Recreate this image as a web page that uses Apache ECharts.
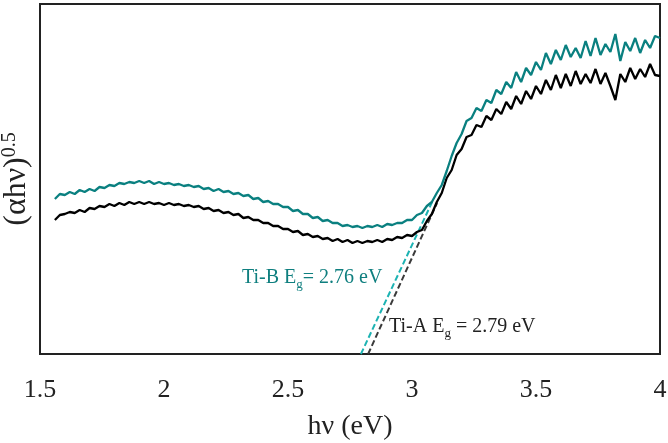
<!DOCTYPE html>
<html><head><meta charset="utf-8">
<script src="https://cdn.jsdelivr.net/npm/echarts@6/dist/echarts.min.js"></script>
<style>html,body{margin:0;padding:0;background:#fff}#c{width:668px;height:443px}</style>
</head><body><div id="c"></div>
<script>
// photon energy (eV)
const energy = [
1.56,1.58,1.60,1.62,1.64,1.66,1.68,1.70,1.72,1.74,
1.76,1.78,1.80,1.82,1.84,1.86,1.88,1.90,1.92,1.94,
1.96,1.98,2.00,2.02,2.04,2.06,2.08,2.10,2.12,2.14,
2.16,2.18,2.20,2.22,2.24,2.26,2.28,2.30,2.32,2.34,
2.36,2.38,2.40,2.42,2.44,2.46,2.48,2.50,2.52,2.54,
2.56,2.58,2.60,2.62,2.64,2.66,2.68,2.70,2.72,2.74,
2.76,2.78,2.80,2.82,2.84,2.86,2.88,2.90,2.92,2.94,
2.96,2.98,3.00,3.02,3.04,3.06,3.08,3.10,3.12,3.14,
3.16,3.18,3.20,3.22,3.24,3.26,3.28,3.30,3.32,3.34,
3.36,3.38,3.40,3.42,3.44,3.46,3.48,3.50,3.52,3.54,
3.56,3.58,3.60,3.62,3.64,3.66,3.68,3.70,3.72,3.74,
3.76,3.78,3.80,3.82,3.84,3.86,3.88,3.90,3.92,3.94,
3.96,3.98,4.00];
// (αhν)^0.5, arbitrary units — Ti-B (teal)
const tiB = [
155,160,159,162,160,164,162,165,163,167,
166,169,168,171,170,172,171,173,171,173,
170,172,170,171,169,170,168,169,167,168,
165,166,163,165,162,163,160,161,158,159,
155,156,152,153,150,150,147,147,143,144,
140,140,136,137,133,134,131,131,128,129,
127,128,126,128,127,129,127,130,129,131,
131,134,134,139,141,148,152,161,169,183,
198,211,220,233,236,246,243,254,251,264,
260,272,266,282,272,286,279,292,284,301,
290,304,294,309,297,306,296,313,298,316,
299,310,302,320,293,312,303,316,301,314,
306,318,316];
// Ti-A (black)
const tiA = [
134,139,140,142,141,144,142,146,145,148,
147,150,148,151,149,152,150,152,150,152,
150,151,149,151,149,150,148,149,147,148,
145,146,143,144,141,142,139,140,136,137,
134,134,131,131,128,128,125,125,122,123,
119,120,117,118,115,116,113,115,112,114,
111,113,111,113,112,114,112,115,114,117,
116,119,118,122,124,133,140,152,161,176,
184,199,205,217,219,229,227,238,234,245,
240,252,245,258,250,263,255,268,260,274,
264,279,266,280,268,283,270,280,271,285,
270,281,268,254,280,272,286,275,285,277,
290,279,278];
// Tauc tangent lines [energy, value]
const tangentB = [[2.794, 0], [3.085, 154]];
const tangentA = [[2.823, 0], [3.101, 151]];
const xTicks = [1.5, 2, 2.5, 3, 3.5, 4];
const labelB = 'Ti-B E';
const labelA = 'Ti-A E';
const gapB = '2.76 eV';
const gapA = '2.79 eV';

const FF = '"Liberation Serif","Times New Roman",serif';
const pair = (xs, ys) => xs.map((x, i) => [x, ys[i]]);

const chart = echarts.init(document.getElementById('c'), null, {renderer: 'canvas'});
chart.setOption({
  animation: false,
  backgroundColor: '#fff',
  grid: {left: 40, right: 8, top: 4, bottom: 89, containLabel: false, outerBoundsMode: 'none',
         show: true, borderColor: '#222', borderWidth: 2, backgroundColor: 'transparent'},
  xAxis: {
    type: 'value', min: xTicks[0], max: xTicks[xTicks.length - 1], interval: 0.5,
    axisLine: {show: false}, axisTick: {show: false}, splitLine: {show: false},
    axisLabel: {margin: 23, fontSize: 26, fontFamily: FF, color: '#222', formatter: v => String(v)},
    name: 'hν (eV)', nameLocation: 'middle', nameGap: 59,
    nameTextStyle: {fontSize: 28, fontFamily: FF, color: '#222'}
  },
  yAxis: {
    type: 'value', min: 0, max: 350,
    axisLine: {show: false}, axisTick: {show: false}, splitLine: {show: false},
    axisLabel: {show: false},
    name: '{b|(αhν)}{sup|0.5}', nameLocation: 'middle', nameRotate: 90, nameGap: 7,
    nameTextStyle: {
      fontFamily: FF, color: '#222',
      rich: {
        b: {fontSize: 32, fontFamily: FF, color: '#222', lineHeight: 32},
        sup: {fontSize: 20, fontFamily: FF, color: '#222', lineHeight: 20, padding: [0, 0, 15, 0]}
      }
    }
  },
  series: [
    {type: 'line', data: tangentB, showSymbol: false, z: 1, lineStyle: {color: '#1db3b3', width: 2, type: [6, 3]}},
    {type: 'line', data: tangentA, showSymbol: false, z: 1, lineStyle: {color: '#3a3a3a', width: 2, type: [6, 3]}},
    {type: 'line', data: pair(energy, tiA), showSymbol: false, z: 2, lineStyle: {color: '#000', width: 2.3}},
    {type: 'line', data: pair(energy, tiB), showSymbol: false, z: 3, lineStyle: {color: '#0a8080', width: 2.3}}
  ],
  graphic: [
    {type: 'text', left: 242, top: 264, z: 10, style: {
      text: '{n|' + labelB + '}{s|g}{n|= ' + gapB + '}',
      rich: {
        n: {fontSize: 20, fontFamily: FF, fill: '#0f7f7f', lineHeight: 22},
        s: {fontSize: 13, fontFamily: FF, fill: '#0f7f7f', lineHeight: 13, padding: [14, 0, 0, 0]}
      }
    }},
    {type: 'text', left: 389, top: 313, z: 10, style: {
      text: '{n|' + labelA + '}{s|g}{n| = ' + gapA + '}',
      rich: {
        n: {fontSize: 20, fontFamily: FF, fill: '#222', lineHeight: 22},
        s: {fontSize: 13, fontFamily: FF, fill: '#222', lineHeight: 13, padding: [14, 0, 0, 0]}
      }
    }}
  ]
});
</script>
</body></html>
